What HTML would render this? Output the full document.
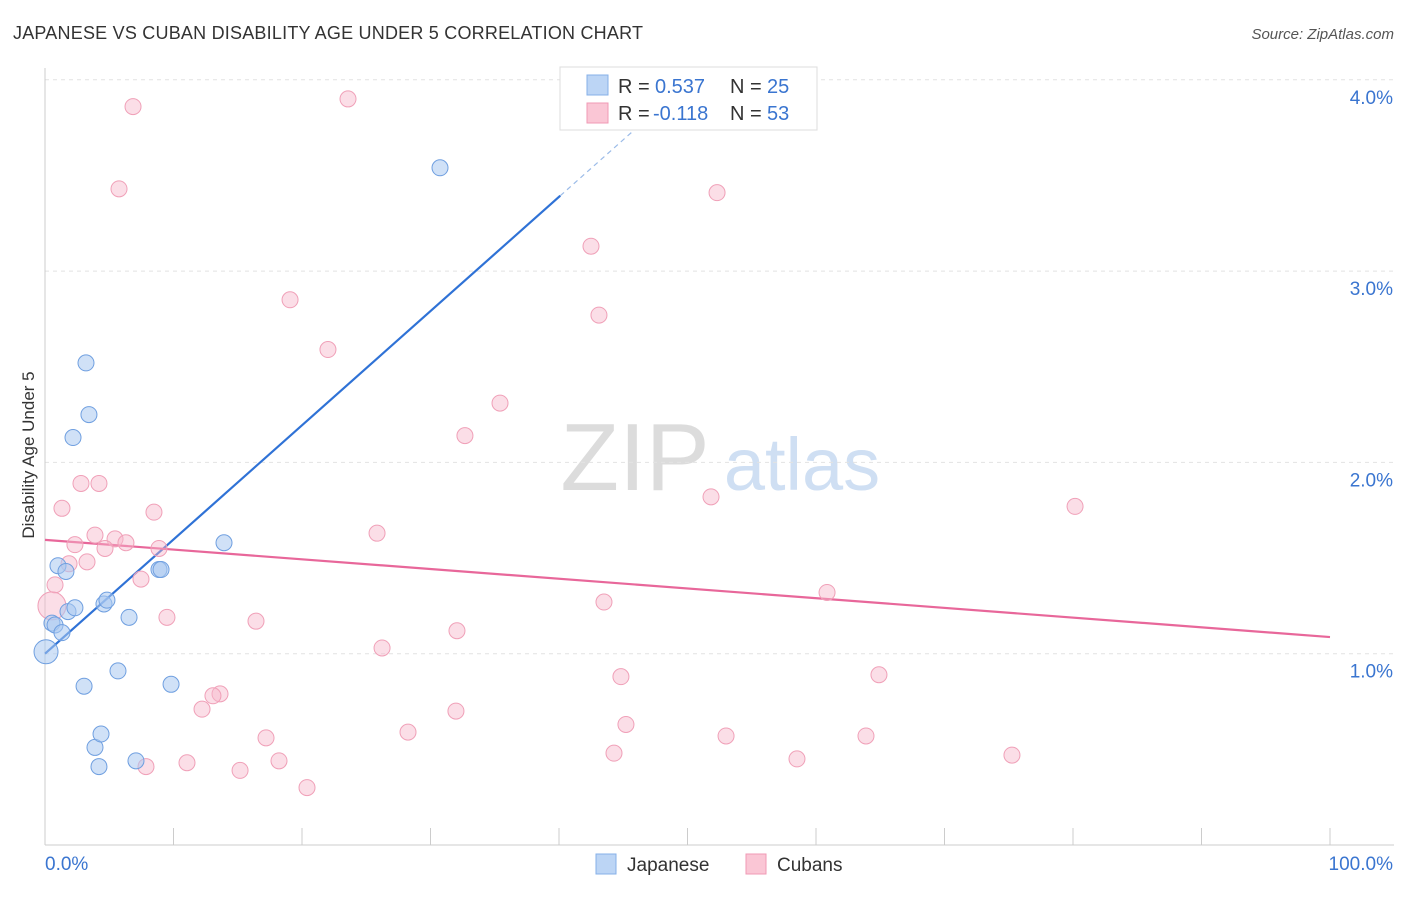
<!DOCTYPE html>
<html><head><meta charset="utf-8">
<style>
body{margin:0;background:#fff;font-family:"Liberation Sans",sans-serif;}
svg text{font-family:"Liberation Sans",sans-serif;}
</style></head>
<body>
<svg id="chart" width="1406" height="892" xmlns="http://www.w3.org/2000/svg">
<text x="13" y="39" font-size="18" fill="#333" textLength="630">JAPANESE VS CUBAN DISABILITY AGE UNDER 5 CORRELATION CHART</text>
<text x="1394" y="39" font-size="15" fill="#555" font-style="italic" text-anchor="end">Source: ZipAtlas.com</text>
<g>
<text x="635" y="490" font-size="96" fill="#dcdcdc" font-family="Liberation Serif" text-anchor="middle">ZIP</text>
<text x="802" y="490" font-size="74" fill="#cfdff3" text-anchor="middle">atlas</text>
</g>
<g id="grid"></g>
<g id="axes"></g>
<text transform="translate(34,455) rotate(-90)" font-size="17" fill="#333" text-anchor="middle">Disability Age Under 5</text>
<g id="lines"></g>
<g id="pts"></g>
<g>
<rect x="560" y="67" width="257" height="63" fill="#fff" stroke="#ddd"/>
<rect x="587" y="75" width="21" height="20" fill="#bcd5f5" stroke="#86b0e8"/>
<rect x="587" y="103" width="21" height="20" fill="#fac6d5" stroke="#f09ab5"/>
<text x="618" y="93" font-size="20" fill="#333">R =</text><text x="655" y="93" font-size="20" fill="#3a75d0">0.537</text>
<text x="730" y="93" font-size="20" fill="#333">N =</text><text x="767" y="93" font-size="20" fill="#3a75d0">25</text>
<text x="618" y="120" font-size="20" fill="#333">R =</text><text x="653" y="120" font-size="20" fill="#3a75d0">-0.118</text>
<text x="730" y="120" font-size="20" fill="#333">N =</text><text x="767" y="120" font-size="20" fill="#3a75d0">53</text>
</g>
<g>
<rect x="596" y="854" width="20" height="20" fill="#bcd5f5" stroke="#86b0e8"/>
<text x="627" y="871" font-size="19" fill="#333">Japanese</text>
<rect x="746" y="854" width="20" height="20" fill="#fac6d5" stroke="#f09ab5"/>
<text x="777" y="871" font-size="19" fill="#333">Cubans</text>
</g>
</svg>
<script>
const yTicks=[1,2,3,4];
const yTickLabels=["1.0%","2.0%","3.0%","4.0%"];
const xTickLabels=["0.0%","100.0%"];
const japX=[0.08,0.54,0.78,1.01,1.32,1.63,1.79,2.33,2.18,3.19,3.42,3.04,3.89,4.20,4.36,4.59,4.82,5.68,6.54,7.08,8.87,9.03,9.81,13.93,30.74];
const japY=[1.01,1.16,1.15,1.46,1.11,1.43,1.22,1.24,2.13,2.52,2.25,0.83,0.51,0.41,0.58,1.26,1.28,0.91,1.19,0.44,1.44,1.44,0.84,1.58,3.54];
const cubX=[6.85,23.58,5.76,52.30,42.49,19.07,43.11,22.02,35.41,32.68,2.80,4.20,51.83,80.16,1.32,8.48,25.84,3.89,5.45,6.30,2.33,4.67,8.87,1.87,3.27,0.78,7.47,0.54,43.50,60.86,9.49,16.42,32.06,26.23,44.82,64.90,13.62,13.07,12.22,31.98,45.21,28.25,53.00,17.20,63.89,44.28,75.25,18.21,58.52,11.05,7.86,15.18,20.39];
const cubY=[3.86,3.90,3.43,3.41,3.13,2.85,2.77,2.59,2.31,2.14,1.89,1.89,1.82,1.77,1.76,1.74,1.63,1.62,1.60,1.58,1.57,1.55,1.55,1.47,1.48,1.36,1.39,1.25,1.27,1.32,1.19,1.17,1.12,1.03,0.88,0.89,0.79,0.78,0.71,0.70,0.63,0.59,0.57,0.56,0.57,0.48,0.47,0.44,0.45,0.43,0.41,0.39,0.30];
const japTrend=[1.0,0.0597];
const cubTrend=[1.595,-0.00508];
const X=v=>45+v*12.85, Y=v=>845-v*191.3;
const NS="http://www.w3.org/2000/svg";
function mk(t,a,p){const e=document.createElementNS(NS,t);for(const k in a)e.setAttribute(k,a[k]);p.appendChild(e);return e;}
const grid=document.getElementById('grid'),axes=document.getElementById('axes');
yTicks.forEach((t,i)=>{
 const l=mk('line',{x1:45,x2:1394,y1:Y(t),y2:Y(t),stroke:'#e2e2e2','stroke-dasharray':'4,4'},grid);
 
 
 const tx=mk('text',{x:1393,y:Y(t)+24,'font-size':19,fill:'#3a75d0','text-anchor':'end'},axes);
 tx.textContent=yTickLabels[i];
 
 
});
mk('line',{x1:45,x2:45,y1:68,y2:845,stroke:'#ccc'},axes);
mk('line',{x1:45,x2:1394,y1:845,y2:845,stroke:'#ccc'},axes);
for(let i=0;i<=10;i++){const t=mk('line',{x1:X(i*10),x2:X(i*10),y1:828,y2:845,stroke:'#ccc'},axes);
 
 }
const xl0=mk('text',{x:45,y:870,'font-size':19,fill:'#3a75d0'},axes);xl0.textContent=xTickLabels[0];


const xl1=mk('text',{x:1393,y:870,'font-size':19,fill:'#3a75d0','text-anchor':'end'},axes);xl1.textContent=xTickLabels[1];


const pts=document.getElementById('pts');
cubX.forEach((x,i)=>{const c=mk('circle',{cx:X(x),cy:Y(cubY[i]),r:(i==27?14:8),fill:'rgba(247,182,202,0.45)',stroke:'#f0a0b8','stroke-width':1},pts);
 
 });
japX.forEach((x,i)=>{const c=mk('circle',{cx:X(x),cy:Y(japY[i]),r:(i==0?12:8),fill:'rgba(169,200,240,0.55)',stroke:'#6f9fe0','stroke-width':1},pts);
 
 });
const lines=document.getElementById('lines');
const jl=mk('line',{x1:X(0),y1:Y(japTrend[0]),x2:X(40.1),y2:Y(japTrend[0]+japTrend[1]*40.1),stroke:'#2f72d6','stroke-width':2.2},lines);


const jd=mk('line',{x1:X(40.1),y1:Y(japTrend[0]+japTrend[1]*40.1),x2:X(46.5),y2:Y(japTrend[0]+japTrend[1]*46.5),stroke:'#9bbbe8','stroke-width':1.2,'stroke-dasharray':'5,4'},lines);


const cl=mk('line',{x1:X(0),y1:Y(cubTrend[0]),x2:X(100),y2:Y(cubTrend[0]+cubTrend[1]*100),stroke:'#e8679a','stroke-width':2.2},lines);


</script>
</body></html>
